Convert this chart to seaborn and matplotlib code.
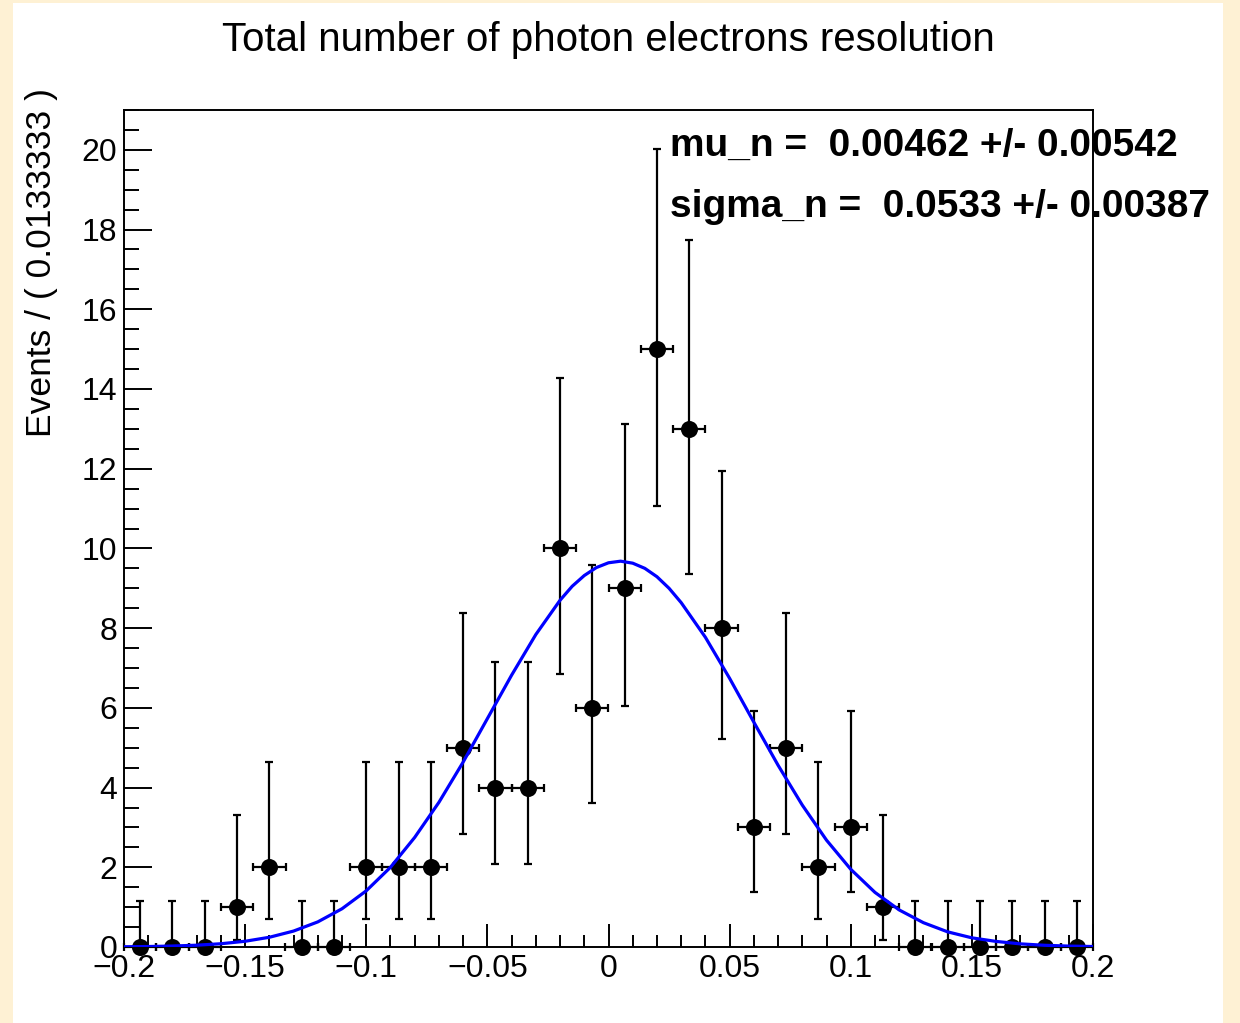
import matplotlib
matplotlib.use("Agg")
import numpy as np
import pandas as pd
import matplotlib.pyplot as plt
import seaborn as sns
from matplotlib.patches import Rectangle
from matplotlib.ticker import MultipleLocator, FuncFormatter

# ---------------- data ----------------
bin_centers = [-0.19333, -0.18, -0.16667, -0.15333, -0.14, -0.12667, -0.11333,
               -0.1, -0.08667, -0.07333, -0.06, -0.04667, -0.03333, -0.02,
               -0.00667, 0.00667, 0.02, 0.03333, 0.04667, 0.06, 0.07333,
               0.08667, 0.1, 0.11333, 0.12667, 0.14, 0.15333, 0.16667, 0.18,
               0.19333]
counts = [0, 0, 0, 1, 2, 0, 0, 2, 2, 2, 5, 4, 4, 10, 6, 9, 15, 13, 8, 3, 5, 2,
          3, 1, 0, 0, 0, 0, 0, 0]
err_low_end = [0, 0, 0, 0.17, 0.71, 0, 0, 0.71, 0.71, 0.71, 2.84, 2.09, 2.09,
               6.86, 3.62, 6.04, 11.06, 9.37, 5.22, 1.37, 2.84, 0.71, 1.37,
               0.17, 0, 0, 0, 0, 0, 0]
err_high_end = [1.15, 1.15, 1.15, 3.30, 4.64, 1.15, 1.15, 4.64, 4.64, 4.64,
                8.38, 7.16, 7.16, 14.27, 9.58, 13.11, 20.03, 17.73, 11.94,
                5.92, 8.38, 4.64, 5.92, 3.30, 1.15, 1.15, 1.15, 1.15, 1.15,
                1.15]
bin_half_width = 0.0066667

curve_x = [-0.20, -0.19, -0.18, -0.17, -0.16, -0.15, -0.14, -0.13, -0.12,
           -0.11, -0.10, -0.09, -0.08, -0.07, -0.06, -0.05, -0.04, -0.03,
           -0.02, -0.015, -0.01, -0.005, 0.00, 0.005, 0.01, 0.015, 0.02,
           0.025, 0.03, 0.04, 0.05, 0.06, 0.07, 0.08, 0.09, 0.10, 0.11, 0.12,
           0.13, 0.14, 0.15, 0.16, 0.17, 0.18, 0.19, 0.20]
curve_y = [0.006, 0.012, 0.024, 0.045, 0.082, 0.144, 0.244, 0.40, 0.63, 0.96,
           1.41, 2.00, 2.75, 3.63, 4.64, 5.73, 6.82, 7.84, 8.70, 9.05, 9.32,
           9.52, 9.64, 9.68, 9.63, 9.50, 9.29, 9.00, 8.64, 7.77, 6.74, 5.64,
           4.56, 3.56, 2.68, 1.95, 1.37, 0.93, 0.61, 0.38, 0.23, 0.14, 0.079,
           0.043, 0.023, 0.012]

title = "Total number of photon electrons resolution"
ylabel = "Events / ( 0.0133333 )"
fit_lines = ["mu_n =  0.00462 +/- 0.00542", "sigma_n =  0.0533 +/- 0.00387"]

# ---------------- style ----------------
sns.set_theme(style="ticks")
plt.rcParams["font.family"] = ["Liberation Sans", "DejaVu Sans"]
plt.rcParams["axes.unicode_minus"] = True

W, H = 1240, 1023
fig = plt.figure(figsize=(W / 100, H / 100), dpi=100)
fig.patch.set_facecolor("#FEF1D4")
fig.patches.append(Rectangle((13 / W, 0), (1223 - 13) / W, (1023 - 3) / H,
                             transform=fig.transFigure, facecolor="white",
                             edgecolor="none", zorder=-10))

ax = fig.add_axes([124 / W, 1 - 947 / H, (1093 - 124) / W, (947 - 110) / H])
ax.set_facecolor("white")

df = pd.DataFrame({"x": bin_centers, "n": counts,
                   "lo": err_low_end, "hi": err_high_end})
yerr = np.vstack([df["n"] - df["lo"], df["hi"] - df["n"]])
ax.errorbar(df["x"], df["n"], yerr=yerr, xerr=bin_half_width, fmt="none",
            ecolor="black", elinewidth=1.6, capsize=3, capthick=1.6,
            clip_on=False, zorder=2)
sns.scatterplot(data=df, x="x", y="n", s=150, color="black",
                edgecolor="black", linewidth=0, ax=ax, zorder=3, clip_on=False)

cdf = pd.DataFrame({"x": curve_x, "y": curve_y})
sns.lineplot(data=cdf, x="x", y="y", color="#0000FF", linewidth=2.3, ax=ax,
             zorder=4, sort=False)

ax.set_xlim(-0.2, 0.2)
ax.set_ylim(0, 21.0)
ax.set_xlabel("")
ax.set_ylabel("")

ax.xaxis.set_major_locator(MultipleLocator(0.05))
ax.xaxis.set_minor_locator(MultipleLocator(0.01))
ax.yaxis.set_major_locator(MultipleLocator(2))
ax.yaxis.set_minor_locator(MultipleLocator(0.5))


def fmt_x(v, pos):
    v = round(v, 4)
    if abs(v) < 1e-9:
        return "0"
    return f"{v:g}".replace("-", "\u2212")


ax.xaxis.set_major_formatter(FuncFormatter(fmt_x))
ax.yaxis.set_major_formatter(FuncFormatter(lambda v, p: f"{int(round(v))}"))

for s in ax.spines.values():
    s.set_visible(True)
    s.set_linewidth(1.4)
    s.set_color("black")
ax.tick_params(which="both", direction="in", top=False, right=False,
               color="black", width=1.4, labelsize=23, labelcolor="black")
ax.tick_params(axis="x", which="major", length=16.5, pad=5)
ax.tick_params(axis="x", which="minor", length=8.6)
ax.tick_params(axis="y", which="major", length=20, pad=5)
ax.tick_params(axis="y", which="minor", length=10.5)

fig.text(608 / W, 1 - 40 / H, title, ha="center", va="center", fontsize=29,
         color="black")
fig.text(42 / W, 1 - 88 / H, ylabel, rotation=90, ha="center", va="top",
         fontsize=25.5, color="black")
fig.text(670 / W, 1 - 156 / H, fit_lines[0], ha="left", va="baseline",
         fontsize=28, fontweight="bold", color="black")
fig.text(670 / W, 1 - 217 / H, fit_lines[1], ha="left", va="baseline",
         fontsize=28, fontweight="bold", color="black")

fig.savefig("out.png", dpi=100, facecolor=fig.get_facecolor())
